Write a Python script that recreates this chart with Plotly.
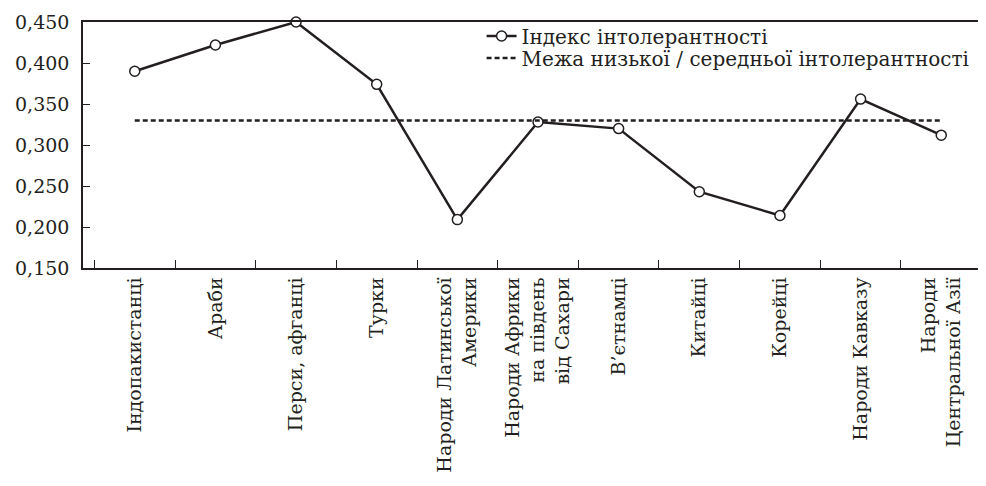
import plotly.graph_objects as go

categories = [
    "Індопакистанці",
    "Араби",
    "Перси, афганці",
    "Турки",
    "Народи Латинської<br>Америки",
    "Народи Африки<br>на південь<br>від Сахари",
    "В\u2019єтнамці",
    "Китайці",
    "Корейці",
    "Народи Кавказу",
    "Народи<br>Центральної Азії",
]
index_values = [0.390, 0.422, 0.450, 0.374, 0.209, 0.328, 0.320, 0.243, 0.214, 0.356, 0.312]
threshold_value = 0.330
threshold_values = [threshold_value] * len(categories)

series_names = ["Індекс інтолерантності", "Межа низької / середньої інтолерантності"]
y_ticks = [0.150, 0.200, 0.250, 0.300, 0.350, 0.400, 0.450]

FONT = "DejaVu Serif"
INK = "#231f20"

fig = go.Figure()
fig.add_trace(go.Scatter(
    x=categories, y=index_values, name=series_names[0],
    mode="lines+markers",
    line=dict(color=INK, width=2.5),
    marker=dict(symbol="circle", size=10, color="white", line=dict(color=INK, width=1.5)),
    cliponaxis=False,
    legend="legend",
))
fig.add_trace(go.Scatter(
    x=categories, y=threshold_values, name=series_names[1],
    mode="lines",
    line=dict(color=INK, width=2.5, dash="5px,3px"),
    legend="legend2",
))

legend_common = dict(
    xanchor="left", yanchor="middle",
    bgcolor="rgba(0,0,0,0)",
    font=dict(family=FONT, size=20, color=INK),
)

fig.update_layout(
    width=986, height=486,
    autosize=False,
    margin=dict(l=75, r=1, t=14, b=226, pad=0, autoexpand=False),
    paper_bgcolor="white", plot_bgcolor="white",
    separators=",.",
    font=dict(family=FONT, size=19, color=INK),
    showlegend=True,
    legend=dict(x=0.438, y=0.943, **legend_common),
    legend2=dict(x=0.438, y=0.854, **legend_common),
)
fig.update_xaxes(
    type="category",
    automargin=False,
    tickson="boundaries",
    ticks="inside", ticklen=8, tickcolor=INK, tickwidth=1.2,
    tickangle=-90,
    showline=True, linecolor=INK, linewidth=1.5, mirror=True,
    showgrid=False, zeroline=False,
    tickfont=dict(family=FONT, size=19, color=INK),
)
fig.update_yaxes(
    automargin=False,
    range=[0.150, 0.450],
    tickvals=y_ticks, tickformat=".3f",
    ticks="inside", ticklen=7, tickcolor=INK, tickwidth=1.2,
    showline=True, linecolor=INK, linewidth=1.5, mirror=True,
    showgrid=False, zeroline=False,
    ticklabelstandoff=8,
    tickfont=dict(family=FONT, size=19, color=INK),
)

fig.write_html("out.html")
